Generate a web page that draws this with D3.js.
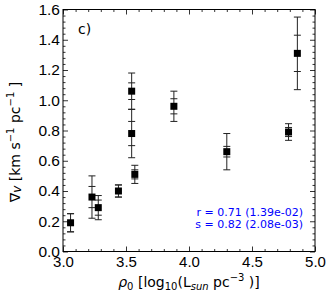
<!DOCTYPE html>
<html><head><meta charset="utf-8">
<script src="https://cdn.jsdelivr.net/npm/d3@7"></script>
<style>body{margin:0;background:#fff}svg{display:block;font-family:"DejaVu Sans",sans-serif}</style>
</head><body><svg id="c" width="332" height="297"></svg>
<script>
const xVals   = [3.06, 3.23, 3.28, 3.44, 3.57, 3.545, 3.545, 3.88, 4.30, 4.79, 4.86];
const yVals   = [0.19, 0.36, 0.29, 0.40, 0.51, 1.06, 0.78, 0.96, 0.66, 0.79, 1.31];
const errOut  = [0.06, 0.14, 0.08, 0.04, 0.06, 0.12, 0.16, 0.10, 0.12, 0.055, 0.24];
const errIn   = [0.06, 0.07, 0.05, 0.04, 0.03, 0.055, 0.08, 0.05, 0.035, 0.03, 0.12];
const xTicks  = [3.0, 3.5, 4.0, 4.5, 5.0];
const yTicks  = [0.0, 0.2, 0.4, 0.6, 0.8, 1.0, 1.2, 1.4, 1.6];
const statLines = ["r = 0.71 (1.39e-02)", "s = 0.82 (2.08e-03)"];

const svg = d3.select("#c");
const L = 63, R = 315, T = 9.5, B = 251.5;
const x = d3.scaleLinear().domain([3, 5]).range([L, R]);
const y = d3.scaleLinear().domain([0, 1.6]).range([B, T]);

const xMinor = d3.range(30, 51).map(d => d / 10).filter(d => !xTicks.some(t => Math.abs(t - d) < 1e-9));
const yMinor = d3.range(0, 41).map(d => d * 0.04).filter(d => !yTicks.some(t => Math.abs(t - d) < 1e-9));

function tickAxis(axisFn, scale, vals, size, tr, labels) {
  const g = svg.append("g").attr("transform", tr)
    .call(axisFn(scale).tickValues(vals).tickSizeInner(-size).tickSizeOuter(0)
      .tickFormat(labels ? d3.format(".1f") : ""));
  g.select(".domain").remove();
  g.selectAll("line").attr("stroke", "#000").attr("stroke-width", 0.8);
  return g;
}
const maj = 5, mnr = 2.5;
const gb = tickAxis(d3.axisBottom, x, xTicks, maj, `translate(0,${B})`, true);
gb.selectAll("text").attr("font-size", 15).attr("fill", "#000").attr("dy", "0.85em").attr("y", 3);
tickAxis(d3.axisBottom, x, xMinor, mnr, `translate(0,${B})`, false);
tickAxis(d3.axisTop, x, xTicks, maj, `translate(0,${T})`, false);
tickAxis(d3.axisTop, x, xMinor, mnr, `translate(0,${T})`, false);
const gl = tickAxis(d3.axisLeft, y, yTicks, maj, `translate(${L},0)`, true);
gl.selectAll("text").attr("font-size", 15.5).attr("fill", "#000").attr("x", -3);
tickAxis(d3.axisLeft, y, yMinor, mnr, `translate(${L},0)`, false);
tickAxis(d3.axisRight, y, yTicks, maj, `translate(${R},0)`, false);
tickAxis(d3.axisRight, y, yMinor, mnr, `translate(${R},0)`, false);

svg.append("rect").attr("x", L).attr("y", T).attr("width", R - L).attr("height", B - T)
  .attr("fill", "none").attr("stroke", "#000").attr("stroke-width", 1);

const data = xVals.map((d, i) => ({x: d, y: yVals[i], eo: errOut[i], ei: errIn[i]}));
const eg = svg.append("g").attr("stroke", "#222").attr("stroke-width", 1);
const cw = 3.5;
data.forEach(d => {
  const cx = x(d.x);
  eg.append("line").attr("x1", cx).attr("x2", cx).attr("y1", y(d.y - d.eo)).attr("y2", y(d.y + d.eo));
  [d.y - d.eo, d.y + d.eo, d.y - d.ei, d.y + d.ei].forEach(v => {
    eg.append("line").attr("x1", cx - cw).attr("x2", cx + cw).attr("y1", y(v)).attr("y2", y(v));
  });
});
svg.append("g").selectAll("rect").data(data).join("rect")
  .attr("x", d => x(d.x) - 3.5).attr("y", d => y(d.y) - 3.5)
  .attr("width", 7).attr("height", 7).attr("fill", "#000");

svg.append("text").attr("x", 78).attr("y", 34).attr("font-size", 14).text("c)");

svg.append("g").selectAll("text").data(statLines).join("text")
  .attr("x", 303).attr("y", (d, i) => 216 + i * 11.5).attr("text-anchor", "end")
  .attr("font-size", 11).attr("fill", "#0000ff").text(d => d);

// x label
const xl = svg.append("text").attr("x", 189).attr("y", 287).attr("text-anchor", "middle").attr("font-size", 14);
xl.append("tspan").attr("font-style", "italic").text("ρ");
xl.append("tspan").attr("font-size", 10).attr("dy", 3).text("0");
xl.append("tspan").attr("dy", -3).text(" [log");
xl.append("tspan").attr("font-size", 10).attr("dy", 3).text("10");
xl.append("tspan").attr("dy", -3).text("(L");
xl.append("tspan").attr("font-size", 10).attr("font-style", "italic").attr("dy", 3).text("sun");
xl.append("tspan").attr("dy", -3).text(" pc");
xl.append("tspan").attr("font-size", 10).attr("dy", -6).text("−3");
xl.append("tspan").attr("dy", 6).text(" )]");

// y label
const yl = svg.append("text").attr("transform", "translate(20,142) rotate(-90)")
  .attr("text-anchor", "middle").attr("font-size", 14);
yl.append("tspan").text("∇");
yl.append("tspan").attr("font-style", "italic").attr("font-size", 12).attr("dy", 1).text("v");
yl.append("tspan").attr("dy", -1).text(" [km s");
yl.append("tspan").attr("font-size", 10).attr("dy", -6).text("−1");
yl.append("tspan").attr("dy", 6).text(" pc");
yl.append("tspan").attr("font-size", 10).attr("dy", -6).text("−1");
yl.append("tspan").attr("dy", 6).text(" ]");
</script></body></html>
